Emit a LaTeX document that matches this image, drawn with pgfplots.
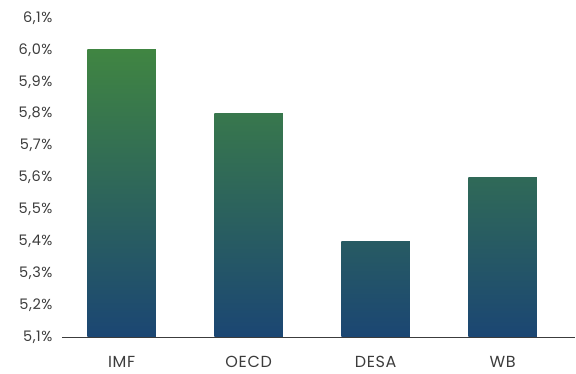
\documentclass[border=0pt]{standalone}
\usepackage{pgfplots}
\pgfplotsset{compat=1.18}
\usepackage{fontspec}
\setmainfont{Poppins}[LetterSpace=4]
\definecolor{barG}{RGB}{64,133,66}
\definecolor{barB}{RGB}{27,70,115}
\definecolor{txt}{RGB}{60,60,60}
\begin{document}
\begin{tikzpicture}
\path[use as bounding box] (0,0) rectangle (576pt,374pt);
\begin{axis}[
  at={(62pt,37pt)}, anchor=south west,
  scale only axis, width=513pt, height=319pt,
  xmin=-0.47, xmax=3.57, ymin=0, ymax=1.0,
  axis x line*=bottom, axis y line*=left,
  y axis line style={draw=none},
  x axis line style={draw=txt, line width=0.8pt, -},
  major tick length=0pt,
  xtick={0,1,2,3}, xticklabels={IMF,OECD,DESA,WB},
  ytick={0,0.1,0.2,0.3,0.4,0.5,0.6,0.7,0.8,0.9,1.0},
  yticklabels={{5,1\%},{5,2\%},{5,3\%},{5,4\%},{5,5\%},{5,6\%},{5,7\%},{5,8\%},{5,9\%},{6,0\%},{6,1\%}},
  yticklabel style={font=\fontsize{14.5}{16}\selectfont, text=txt, xshift=-6pt},
  xticklabel style={font=\fontsize{16}{18}\selectfont, text=txt, yshift=-16pt},
  ybar, bar width=0.54, bar shift=0pt,
  clip=false,
  every axis plot/.append style={draw=none},
]
\addplot[shading=axis, top color=barG, bottom color=barB] table[x=x, y expr=\thisrow{v}-5.1] {
x v
0 6.0
};
\addplot[shading=axis, top color=barG!78!barB, bottom color=barB] table[x=x, y expr=\thisrow{v}-5.1] {
x v
1 5.8
};
\addplot[shading=axis, top color=barG!33!barB, bottom color=barB] table[x=x, y expr=\thisrow{v}-5.1] {
x v
2 5.4
};
\addplot[shading=axis, top color=barG!56!barB, bottom color=barB] table[x=x, y expr=\thisrow{v}-5.1] {
x v
3 5.6
};
\end{axis}
\end{tikzpicture}
\end{document}
